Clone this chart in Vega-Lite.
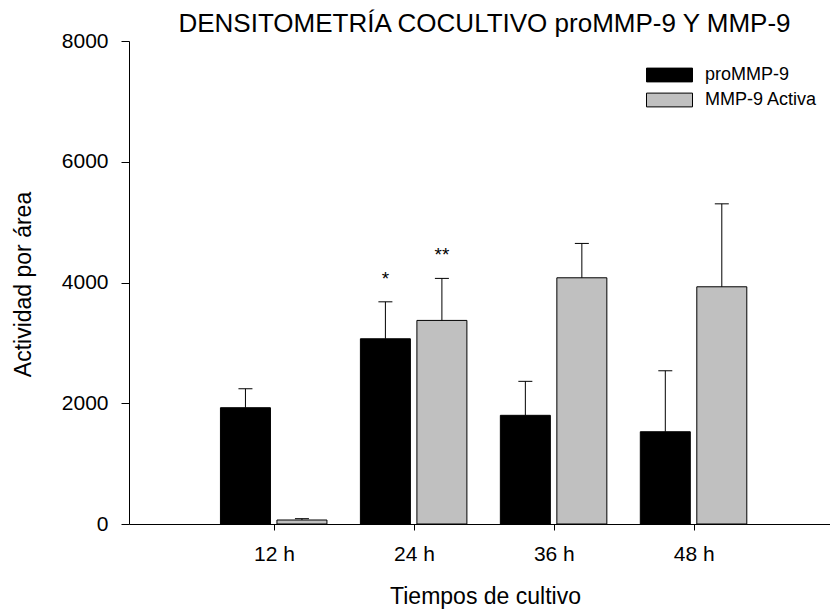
{
  "$schema": "https://vega.github.io/schema/vega-lite/v6.json",
  "width": 701,
  "height": 483,
  "autosize": {"type": "none"},
  "padding": {"left": 129, "top": 41, "right": 0, "bottom": 89},
  "background": "white",
  "config": {
    "font": "Liberation Sans",
    "view": {"stroke": null},
    "axis": {"grid": false, "domainColor": "black", "tickColor": "black", "labelColor": "black", "titleColor": "black", "titleFontWeight": "normal", "domainWidth": 1, "tickWidth": 1}
  },
  "title": {
    "text": "DENSITOMETRÍA COCULTIVO proMMP-9 Y MMP-9",
    "fontSize": 26,
    "fontWeight": "normal",
    "color": "black",
    "anchor": "middle",
    "baseline": "bottom",
    "offset": 4,
    "dx": 5,
    "dy": 37
  },
  "data": {
    "values": [
      {"hora": 12, "serie": "proMMP-9", "valor": 1926, "sup": 2240, "sig": ""},
      {"hora": 12, "serie": "MMP-9 Activa", "valor": 66, "sup": 88, "sig": ""},
      {"hora": 24, "serie": "proMMP-9", "valor": 3068, "sup": 3680, "sig": "*"},
      {"hora": 24, "serie": "MMP-9 Activa", "valor": 3372, "sup": 4068, "sig": "**"},
      {"hora": 36, "serie": "proMMP-9", "valor": 1800, "sup": 2363, "sig": ""},
      {"hora": 36, "serie": "MMP-9 Activa", "valor": 4078, "sup": 4647, "sig": ""},
      {"hora": 48, "serie": "proMMP-9", "valor": 1528, "sup": 2538, "sig": ""},
      {"hora": 48, "serie": "MMP-9 Activa", "valor": 3929, "sup": 5303, "sig": ""}
    ]
  },
  "encoding": {
    "x": {
      "field": "hora", "type": "quantitative",
      "scale": {"domain": [0, 59.25], "nice": false, "zero": false},
      "axis": {
        "title": "Tiempos de cultivo",
        "values": [12, 24, 36, 48],
        "labelExpr": "datum.value + ' h'",
        "labelFontSize": 21,
        "labelPadding": 13,
        "tickSize": 6,
        "titleFontSize": 23,
        "titleX": 356,
        "titleY": 79,
        "titleBaseline": "alphabetic",
        "titleAnchor": null,
        "titleAlign": "center"
      }
    },
    "y": {
      "field": "valor", "type": "quantitative",
      "scale": {"domain": [0, 8000], "nice": false},
      "axis": {
        "title": "Actividad por área",
        "values": [0, 2000, 4000, 6000, 8000],
        "format": "d",
        "labelFontSize": 21,
        "labelPadding": 13,
        "tickSize": 8,
        "titleFontSize": 23,
        "titleAngle": -90,
        "titleX": -106,
        "titleY": 243,
        "titleAlign": "center",
        "titleBaseline": "middle"
      }
    }
  },
  "layer": [
    {
      "transform": [{"filter": "datum.serie == 'proMMP-9'"}],
      "mark": {"type": "bar", "width": 50, "xOffset": -28.5, "stroke": "black", "strokeWidth": 1},
      "encoding": {
        "color": {
          "field": "serie", "type": "nominal",
          "scale": {"domain": ["proMMP-9", "MMP-9 Activa"], "range": ["#000000", "#c0c0c0"]},
          "legend": {
            "title": null,
            "orient": "none",
            "legendX": 528.5,
            "legendY": 22,
            "symbolType": "M-2,-0.6L2,-0.6L2,0.6L-2,0.6Z",
            "symbolSize": 529,
            "symbolStrokeColor": "black",
            "symbolStrokeWidth": 1,
            "symbolOpacity": 1,
            "labelFontSize": 18,
            "labelColor": "black",
            "labelOffset": 23.5,
            "rowPadding": 4
          }
        }
      }
    },
    {
      "transform": [{"filter": "datum.serie == 'MMP-9 Activa'"}],
      "mark": {"type": "bar", "width": 50, "xOffset": 28, "stroke": "black", "strokeWidth": 1},
      "encoding": {
        "color": {"field": "serie", "type": "nominal"}
      }
    },
    {
      "transform": [{"filter": "datum.serie == 'proMMP-9'"}],
      "mark": {"type": "rule", "xOffset": -28.5, "color": "black", "strokeWidth": 1},
      "encoding": {"y2": {"field": "sup"}}
    },
    {
      "transform": [{"filter": "datum.serie == 'MMP-9 Activa'"}],
      "mark": {"type": "rule", "xOffset": 28, "color": "black", "strokeWidth": 1},
      "encoding": {"y2": {"field": "sup"}}
    },
    {
      "transform": [{"filter": "datum.serie == 'proMMP-9'"}],
      "mark": {"type": "rule", "xOffset": -35.5, "x2Offset": -21.5, "color": "black", "strokeWidth": 1},
      "encoding": {"x2": {"field": "hora"}, "y": {"field": "sup", "type": "quantitative"}}
    },
    {
      "transform": [{"filter": "datum.serie == 'MMP-9 Activa'"}],
      "mark": {"type": "rule", "xOffset": 21, "x2Offset": 35, "color": "black", "strokeWidth": 1},
      "encoding": {"x2": {"field": "hora"}, "y": {"field": "sup", "type": "quantitative"}}
    },
    {
      "transform": [{"filter": "datum.serie == 'proMMP-9'"}],
      "mark": {"type": "text", "xOffset": -28.5, "dy": -17, "baseline": "alphabetic", "fontSize": 19, "color": "black"},
      "encoding": {"y": {"field": "sup", "type": "quantitative"}, "text": {"field": "sig"}}
    },
    {
      "transform": [{"filter": "datum.serie == 'MMP-9 Activa'"}],
      "mark": {"type": "text", "xOffset": 28, "dy": -17, "baseline": "alphabetic", "fontSize": 19, "color": "black"},
      "encoding": {"y": {"field": "sup", "type": "quantitative"}, "text": {"field": "sig"}}
    }
  ]
}
